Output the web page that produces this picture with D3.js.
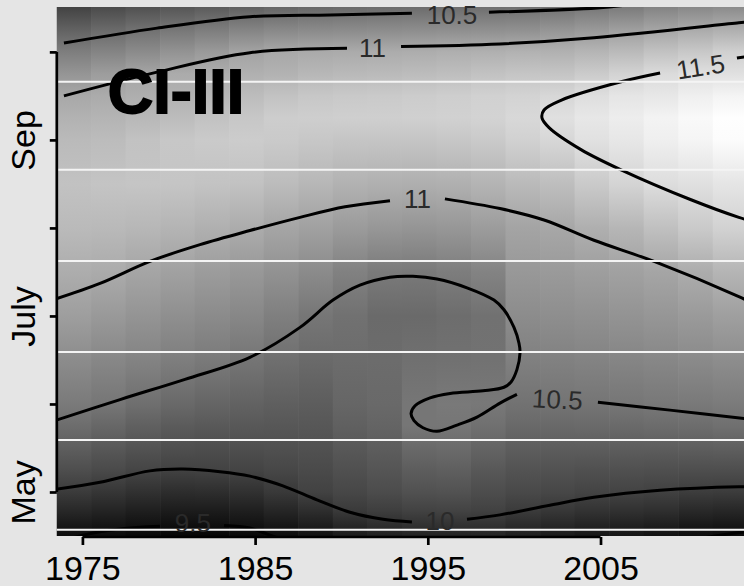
<!DOCTYPE html>
<html><head><meta charset="utf-8">
<script src="https://cdn.jsdelivr.net/npm/d3@7"></script>
<style>body{margin:0;background:#e5e5e5}svg{display:block}</style>
</head><body>
<script>
// ---------- data ----------
const yearCenters = [1974.5,1976.5,1978.5,1980.5,1982.5,1984.5,1986.5,1988.5,1990.5,1992.5,1994.5,1996.5,1998.5,2000.5,2002.5,2004.5,2006.5,2008.5,2010.5,2012.5];
const knotMonths = [4.45,4.6,4.8,5.0,5.25,5.5,5.75,6.0,6.5,7.0,7.5,8.0,8.5,9.0,9.25,9.5,9.75,10.0,10.25,10.55];
const gridValues = [
 [9.42,9.55,9.74,9.92,10.10,10.26,10.41,10.54,10.72,10.90,11.05,11.18,11.25,11.18,11.10,11.00,10.81,10.58,10.30,9.95],
 [9.40,9.52,9.70,9.87,10.06,10.20,10.35,10.50,10.67,10.85,11.03,11.17,11.27,11.20,11.12,11.03,10.89,10.64,10.38,10.02],
 [9.37,9.48,9.65,9.82,10.01,10.15,10.28,10.43,10.63,10.80,10.97,11.15,11.28,11.25,11.16,11.06,10.97,10.71,10.45,10.08],
 [9.34,9.46,9.62,9.78,9.98,10.11,10.23,10.37,10.58,10.75,10.93,11.12,11.28,11.30,11.20,11.10,11.03,10.79,10.51,10.13],
 [9.34,9.46,9.62,9.79,9.99,10.10,10.21,10.33,10.54,10.71,10.88,11.08,11.26,11.33,11.25,11.15,11.05,10.86,10.57,10.18],
 [9.37,9.49,9.65,9.82,10.00,10.11,10.20,10.30,10.49,10.67,10.84,11.04,11.25,11.35,11.30,11.20,11.08,10.95,10.64,10.23],
 [9.42,9.54,9.72,9.90,10.03,10.12,10.19,10.27,10.43,10.59,10.78,10.97,11.20,11.33,11.36,11.25,11.10,11.00,10.68,10.28],
 [9.48,9.60,9.80,9.98,10.06,10.13,10.19,10.25,10.38,10.50,10.71,10.93,11.15,11.30,11.37,11.30,11.15,11.02,10.70,10.31],
 [9.56,9.70,9.92,10.03,10.12,10.20,10.28,10.34,10.40,10.45,10.61,10.87,11.10,11.28,11.38,11.32,11.17,11.03,10.71,10.33],
 [9.60,9.76,9.96,10.08,10.17,10.25,10.32,10.37,10.40,10.38,10.54,10.83,11.08,11.28,11.38,11.33,11.18,11.04,10.72,10.34],
 [9.62,9.80,9.99,10.13,10.25,10.37,10.50,10.50,10.44,10.38,10.53,10.81,11.07,11.28,11.39,11.35,11.20,11.05,10.73,10.35],
 [9.62,9.80,10.00,10.14,10.27,10.39,10.50,10.53,10.45,10.41,10.57,10.83,11.08,11.30,11.40,11.37,11.22,11.07,10.74,10.36],
 [9.64,9.80,9.98,10.09,10.20,10.32,10.44,10.52,10.46,10.45,10.63,10.88,11.12,11.33,11.42,11.40,11.25,11.08,10.75,10.38],
 [9.58,9.74,9.93,10.05,10.15,10.26,10.37,10.46,10.60,10.72,10.84,10.96,11.18,11.40,11.47,11.42,11.28,11.10,10.76,10.39],
 [9.55,9.70,9.89,10.03,10.14,10.25,10.37,10.48,10.61,10.74,10.86,10.99,11.22,11.46,11.55,11.46,11.28,11.09,10.81,10.41],
 [9.51,9.66,9.85,10.00,10.12,10.25,10.38,10.49,10.63,10.76,10.90,11.07,11.33,11.56,11.62,11.53,11.34,11.13,10.85,10.46],
 [9.50,9.64,9.83,9.99,10.12,10.25,10.38,10.50,10.65,10.79,10.93,11.14,11.43,11.62,11.68,11.60,11.42,11.18,10.91,10.49],
 [9.46,9.61,9.81,9.97,10.11,10.25,10.40,10.52,10.67,10.82,10.97,11.23,11.52,11.70,11.74,11.62,11.50,11.25,10.97,10.58],
 [9.42,9.56,9.75,9.94,10.10,10.26,10.41,10.53,10.70,10.86,11.04,11.33,11.55,11.76,11.80,11.70,11.55,11.31,11.03,10.63],
 [9.40,9.54,9.73,9.93,10.10,10.27,10.44,10.55,10.73,10.91,11.13,11.41,11.60,11.83,11.85,11.75,11.55,11.39,11.07,10.66]
];

const monthTicks = [5,6,7,8,9,10];
const monthTickLabels = ["May","","July","","Sep",""];
const yearTicks = [1975,1985,1995,2005];
const refLineMonths = [4.57,5.59,6.59,7.625,8.66,9.66];

// contour lines (year, month), split where labels sit
const c95_a = [[1974.05,4.45],[1975.03,4.51],[1977.18,4.58],[1979.49,4.61]];
const c95_b = [[1983.2,4.62],[1984.7,4.59],[1985.86,4.51],[1986.73,4.45]];
const c95_c = [[2010.18,4.45],[2011.92,4.51],[2013.54,4.55]];
const c10_a = [[1973.4,5.03],[1976.02,5.11],[1978.91,5.24],[1980.82,5.26],[1982.97,5.23],[1984.7,5.18],[1986.61,5.07],[1988.58,4.91],[1990.49,4.77],[1992.41,4.69],[1994.08,4.66]];
const c10_b = [[1997.27,4.69],[1999.18,4.74],[2002.07,4.85],[2004.62,4.94],[2008.45,5.02],[2013.01,5.06],[2013.54,5.06]];
const c105_low_a = [[1973.4,5.81],[1977.18,6.05],[1980.94,6.28],[1984.7,6.53],[1987.6,6.87],[1989.51,7.18],[1991.07,7.35],[1992.81,7.44],[1994.14,7.45],[1995.53,7.42],[1997.27,7.32],[1998.83,7.18],[1999.41,7.07],[1999.99,6.87],[2000.28,6.69],[2000.34,6.58],[2000.16,6.39],[1999.82,6.25],[1999.41,6.19],[1998.2,6.15],[1996.29,6.12],[1995.13,6.07],[1994.26,5.98],[1994.03,5.89],[1994.2,5.81],[1994.72,5.73],[1995.53,5.69],[1996.69,5.76],[1997.85,5.85],[1999.18,6.01],[2000.16,6.11]];
const c105_low_b = [[2004.85,6.02],[2009.02,5.93],[2013.54,5.83]];
const c105_top_a = [[1973.93,10.10],[1979.32,10.27],[1984.7,10.40],[1989.34,10.42],[1994.08,10.44]];
const c105_top_b = [[1998.54,10.45],[2004.8,10.50],[2006.42,10.53]];
const c11_top_a = [[1973.93,9.50],[1979.32,9.77],[1984.7,9.99],[1990.32,10.04]];
const c11_top_b = [[1993.45,10.06],[1999.18,10.09],[2004.62,10.16],[2013.01,10.33],[2013.54,10.34]];
const c11_mid_a = [[1973.4,7.19],[1976.02,7.37],[1978.91,7.62],[1981.81,7.81],[1984.7,7.97],[1987.6,8.12],[1990.21,8.24],[1992.81,8.31]];
const c11_mid_b = [[1995.99,8.33],[1999.18,8.22],[2001.73,8.09],[2004.62,7.86],[2008.1,7.62],[2013.01,7.22],[2013.54,7.17]];
const c115_a = [[2012.9,9.93],[2013.54,9.95]];
const c115_b = [[2008.45,9.76],[2006.19,9.66],[2002.71,9.45],[2001.73,9.34],[2001.61,9.25],[2002.02,9.14],[2003.87,8.89],[2006.19,8.66],[2010.24,8.32],[2013.01,8.12],[2013.54,8.09]];
const contourSegments = [c95_a,c95_b,c95_c,c10_a,c10_b,c105_low_a,c105_low_b,c105_top_a,c105_top_b,c11_top_a,c11_top_b,c11_mid_a,c11_mid_b,c115_a,c115_b];

const labelTexts  = ["10.5","11","11.5","11","10.5","10","9.5"];
const labelYears  = [1996.4,1991.8,2010.8,1994.4,2002.5,1995.7,1981.4];
const labelMonths = [10.42,10.04,9.83,8.33,6.05,4.67,4.65];
const labelAngles = [0,0,-9,0,3,0,0];

const panelTitle = "CI-III";
const panelTitlePos = [1980.42, 9.56];

// ---------- drawing ----------
const W = 744, H = 586;
const x = d3.scaleLinear().domain([1973.5, 2013.5]).range([56.5, 747.3]);
const y = d3.scaleLinear().domain([4.5, 10.51]).range([536, 7]);
const gray = d3.scaleLinear().domain([9.33, 11.86]).range(["#000000", "#ffffff"]).clamp(true);
const FONT = "'Liberation Sans', Arial, Helvetica, sans-serif";

const svg = d3.select("body").append("svg").attr("width", W).attr("height", H);
svg.append("rect").attr("width", W).attr("height", H).attr("fill", "#e5e5e5");
const defs = svg.append("defs");
defs.append("clipPath").attr("id", "plotclip").append("rect")
  .attr("x", x(1973.5)).attr("y", y(10.51))
  .attr("width", x(2013.5) - x(1973.5)).attr("height", y(4.5) - y(10.51));

const gy1 = y(knotMonths[0]), gy2 = y(knotMonths[knotMonths.length - 1]);
yearCenters.forEach((yc, i) => {
  const g = defs.append("linearGradient").attr("id", "col" + i)
    .attr("gradientUnits", "userSpaceOnUse")
    .attr("x1", 0).attr("x2", 0).attr("y1", gy1).attr("y2", gy2);
  knotMonths.forEach((m, j) => {
    g.append("stop").attr("offset", (y(m) - gy1) / (gy2 - gy1)).attr("stop-color", gray(gridValues[i][j]));
  });
});

const plot = svg.append("g").attr("clip-path", "url(#plotclip)");
plot.selectAll("rect.cell").data(yearCenters).join("rect").attr("class", "cell")
  .attr("x", d => x(d - 1)).attr("width", d => x(d + 1) - x(d - 1) + 0.6)
  .attr("y", gy2).attr("height", gy1 - gy2)
  .attr("fill", (d, i) => "url(#col" + i + ")");

const line = d3.line().x(d => x(d[0])).y(d => y(d[1])).curve(d3.curveCatmullRom.alpha(0.5));
plot.selectAll("path.contour").data(contourSegments).join("path").attr("class", "contour")
  .attr("d", line).attr("fill", "none").attr("stroke", "#000").attr("stroke-width", 3)
  .attr("stroke-linecap", "butt").attr("stroke-linejoin", "round");

svg.append("g").selectAll("text.clabel").data(labelTexts).join("text").attr("class", "clabel")
  .attr("transform", (d, i) => `translate(${x(labelYears[i])},${y(labelMonths[i])}) rotate(${labelAngles[i]})`)
  .attr("text-anchor", "middle").attr("dominant-baseline", "central")
  .attr("font-family", FONT).attr("font-size", 26).attr("fill", "#2a2a2a")
  .text(d => d);

plot.selectAll("line.ref").data(refLineMonths).join("line").attr("class", "ref")
  .attr("x1", x(1973.5)).attr("x2", x(2013.5)).attr("y1", d => y(d)).attr("y2", d => y(d))
  .attr("stroke", "#f4f4f4").attr("stroke-width", 2);

// axes
const axX = 56.8, axY = 537;
const yAxis = svg.append("g").attr("transform", `translate(${axX},0)`)
  .call(d3.axisLeft(y).tickValues(monthTicks).tickSize(7).tickFormat((d, i) => monthTickLabels[i]));
yAxis.select(".domain").remove();
yAxis.selectAll(".tick line").attr("stroke", "#000").attr("stroke-width", 2.7);
yAxis.selectAll(".tick text").attr("x", 0).attr("dy", 0).attr("text-anchor", "middle")
  .attr("transform", "translate(-22,0) rotate(-90)")
  .attr("font-family", FONT).attr("font-size", 34).attr("fill", "#000");
svg.append("line").attr("x1", axX).attr("x2", axX).attr("y1", y(10)).attr("y2", y(5))
  .attr("stroke", "#000").attr("stroke-width", 2.7);

const xAxis = svg.append("g").attr("transform", `translate(0,${axY})`)
  .call(d3.axisBottom(x).tickValues(yearTicks).tickSize(8).tickFormat(d3.format("d")));
xAxis.select(".domain").remove();
xAxis.selectAll(".tick line").attr("stroke", "#000").attr("stroke-width", 2.7);
xAxis.selectAll(".tick text").attr("y", 43).attr("dy", 0)
  .attr("font-family", FONT).attr("font-size", 34).attr("fill", "#000");
svg.append("line").attr("x1", x(yearTicks[0])).attr("x2", x(yearTicks[yearTicks.length - 1]))
  .attr("y1", axY).attr("y2", axY).attr("stroke", "#000").attr("stroke-width", 2.7);

svg.append("text").attr("x", x(panelTitlePos[0])).attr("y", y(panelTitlePos[1]))
  .attr("text-anchor", "middle").attr("dominant-baseline", "central")
  .attr("font-family", FONT).attr("font-weight", "bold").attr("font-size", 63)
  .attr("fill", "#000").attr("stroke", "#000").attr("stroke-width", 1.8)
  .text(panelTitle);
</script>
</body></html>
